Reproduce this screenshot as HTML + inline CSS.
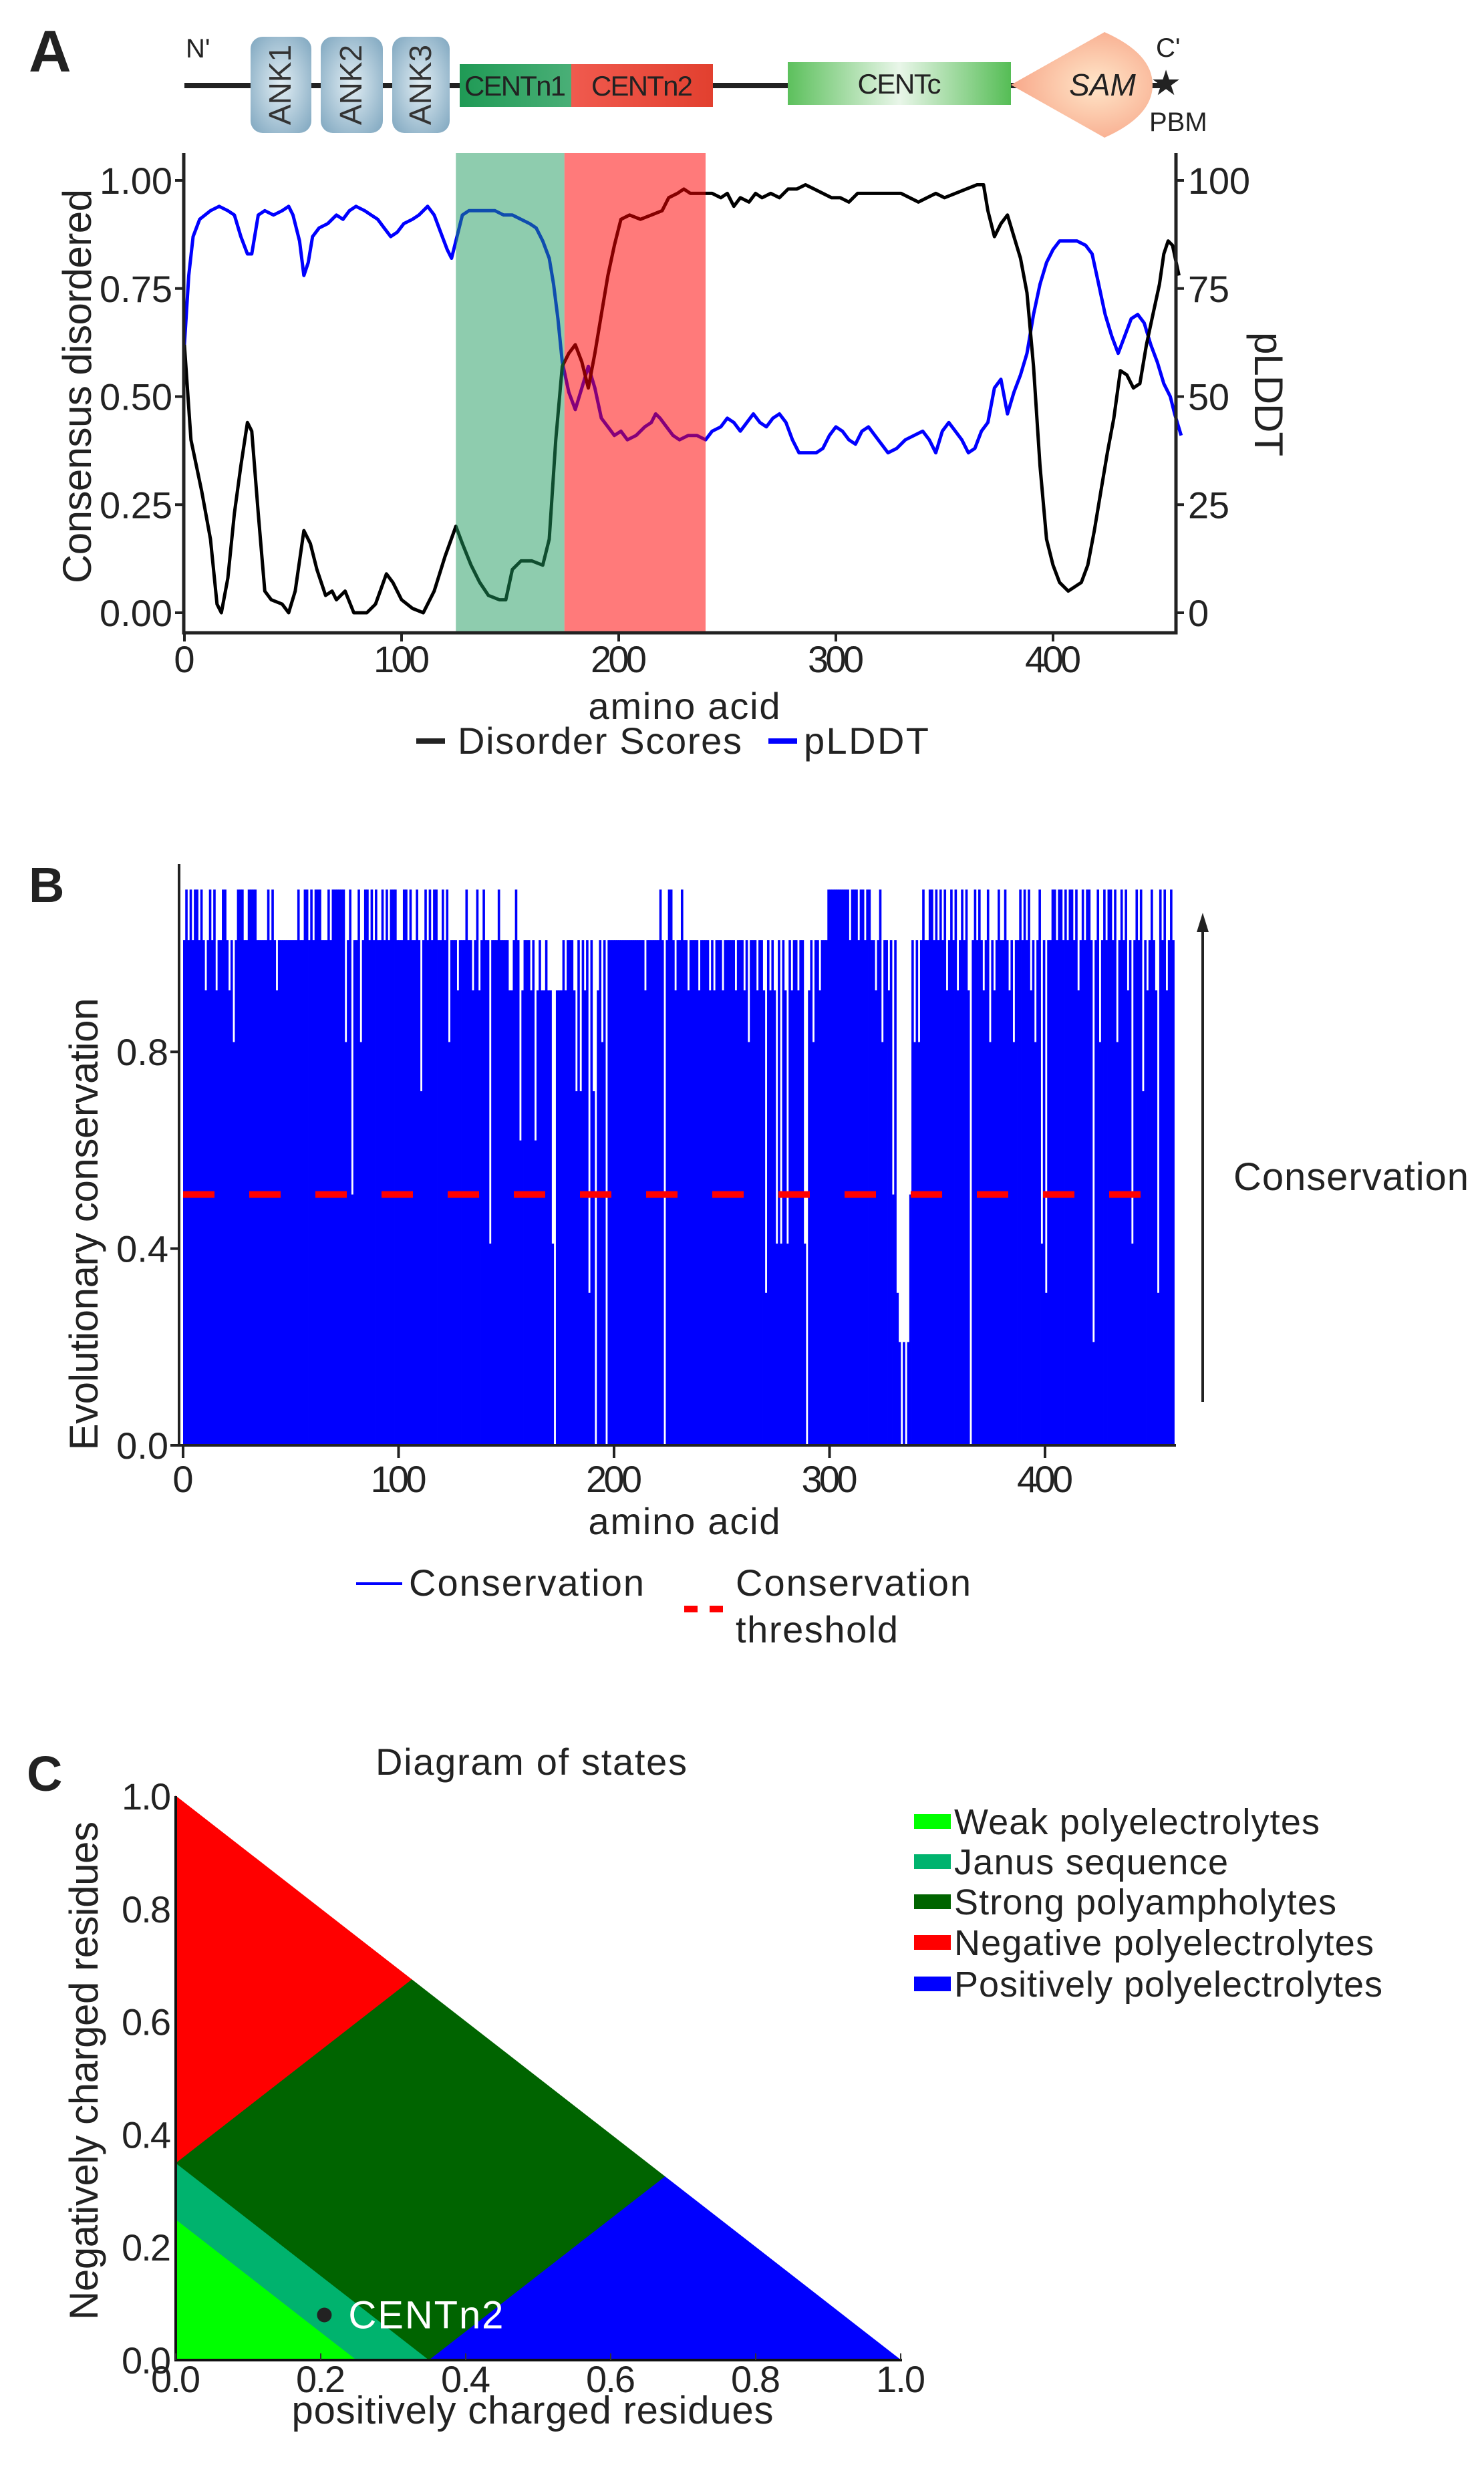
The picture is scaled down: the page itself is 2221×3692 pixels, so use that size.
<!DOCTYPE html>
<html><head><meta charset="utf-8">
<style>
html,body{margin:0;padding:0;background:#fff;}
svg{display:block;font-family:"Liberation Sans",Arial,sans-serif;}
</style></head>
<body>
<svg id="fig" width="2221" height="3692" viewBox="0 0 2221 3692" xmlns="http://www.w3.org/2000/svg">
<defs>
  <radialGradient id="gAnk" cx="0.5" cy="0.5" r="0.7"><stop offset="0" stop-color="#e2eef4"/><stop offset="1" stop-color="#7ea6bf"/></radialGradient>
  <linearGradient id="gCn1" x1="0" x2="1"><stop offset="0" stop-color="#1f9a55"/><stop offset="1" stop-color="#4aaf77"/></linearGradient>
  <linearGradient id="gCn2" x1="0" x2="1"><stop offset="0" stop-color="#f05a4e"/><stop offset="1" stop-color="#e2402f"/></linearGradient>
  <linearGradient id="gCc" x1="0" x2="1"><stop offset="0" stop-color="#5cc05c"/><stop offset="0.5" stop-color="#e9f6e9"/><stop offset="1" stop-color="#55bd55"/></linearGradient>
  <radialGradient id="gSam" cx="0.6" cy="0.5" r="0.6"><stop offset="0" stop-color="#ffe6c9"/><stop offset="1" stop-color="#f8a88a"/></radialGradient>
</defs>

<!-- ============ PANEL A ============ -->
<g id="panelA">
  <text x="43" y="107" font-size="88" font-weight="bold" fill="#222">A</text>
  <g>
    <line x1="276" y1="128" x2="1745" y2="128" stroke="#222" stroke-width="8"/>
    <text x="278" y="86" font-size="40" fill="#222">N'</text>
    <g><rect x="375" y="55" width="91" height="144" rx="18" fill="url(#gAnk)"/><text transform="translate(435,127) rotate(-90)" text-anchor="middle" font-size="46" fill="#333">ANK1</text></g>
    <g><rect x="480" y="55" width="93" height="144" rx="18" fill="url(#gAnk)"/><text transform="translate(541,127) rotate(-90)" text-anchor="middle" font-size="46" fill="#333">ANK2</text></g>
    <g><rect x="587" y="55" width="86" height="144" rx="18" fill="url(#gAnk)"/><text transform="translate(645,127) rotate(-90)" text-anchor="middle" font-size="46" fill="#333">ANK3</text></g>
    <g><rect x="688" y="96" width="167" height="64" fill="url(#gCn1)"/><text x="771" y="143" text-anchor="middle" font-size="42" fill="#222" textLength="152">CENTn1</text></g>
    <g><rect x="855" y="96" width="212" height="64" fill="url(#gCn2)"/><text x="961" y="143" text-anchor="middle" font-size="42" fill="#222" textLength="152">CENTn2</text></g>
    <g><rect x="1179" y="93" width="334" height="64" fill="url(#gCc)"/><text x="1346" y="140" text-anchor="middle" font-size="42" fill="#222" textLength="125">CENTc</text></g>
    <g><path d="M1513,127 L1653,48 Q1725,80 1725,127 Q1725,174 1653,206 Z" fill="url(#gSam)"/><text x="1650" y="143" text-anchor="middle" font-size="46" font-style="italic" fill="#222">SAM</text></g>
    <text x="1745" y="142" text-anchor="middle" font-size="52" fill="#222">★</text>
    <text x="1730" y="85" font-size="40" fill="#222">C'</text>
    <text x="1720" y="196" font-size="40" fill="#222">PBM</text>
  </g>
  <g id="chartA"></g>
</g>

<!-- ============ PANEL B ============ -->
<g id="panelB">
  <text x="43" y="1350" font-size="74" font-weight="bold" fill="#222">B</text>
  <g id="chartB"></g>
  <g>
    <line x1="1800" y1="2098" x2="1800" y2="1390" stroke="#222" stroke-width="4"/>
    <path d="M1791,1395 L1800,1366 L1809,1395 Z" fill="#222"/>
  </g>
  <text x="1846" y="1781" font-size="58" fill="#222" textLength="352">Conservation</text>
  <g>
    <g>
      <line x1="533" y1="2370" x2="602" y2="2370" stroke="#0000ff" stroke-width="4"/>
      <text x="612" y="2388" font-size="56" fill="#222" textLength="352">Conservation</text>
    </g>
    <g>
      <line x1="1024" y1="2408" x2="1096" y2="2408" stroke="#ff0000" stroke-width="10" stroke-dasharray="20,18"/>
      <text x="1101" y="2388" font-size="56" fill="#222" textLength="352">Conservation</text>
      <text x="1101" y="2458" font-size="56" fill="#222" textLength="243">threshold</text>
    </g>
  </g>
</g>

<!-- ============ PANEL C ============ -->
<g id="panelC">
  <text x="40" y="2680" font-size="74" font-weight="bold" fill="#222">C</text>
  <text x="795" y="2656" text-anchor="middle" font-size="56" fill="#222" textLength="466">Diagram of states</text>
  <g id="chartC"></g>
</g>

<script>
// ---------------- Panel A data ----------------
const disorderAA = [0,3,8,12,15,17,20,23,26,29,31,34,37,40,45,48,51,55,58,61,65,68,70,74,78,84,88,93,96,100,105,110,115,120,125,128,132,136,140,145,148,151,155,160,165,168,171,174,177,180,183,186,189,192,195,198,201,205,210,215,220,223,227,230,233,236,240,243,247,250,253,256,260,263,266,270,274,278,282,286,290,294,298,302,306,310,314,318,322,326,330,334,338,342,346,350,355,360,365,368,370,373,376,379,382,385,388,391,394,397,400,403,407,410,413,416,419,422,425,428,431,434,437,440,443,446,449,451,453,455,458];
const disorderVal = [0.62,0.40,0.28,0.17,0.02,0.00,0.08,0.23,0.34,0.44,0.42,0.23,0.05,0.03,0.02,0.00,0.05,0.19,0.16,0.10,0.04,0.05,0.03,0.05,0.00,0.00,0.02,0.09,0.07,0.03,0.01,0.00,0.05,0.13,0.20,0.16,0.11,0.07,0.04,0.03,0.03,0.10,0.12,0.12,0.11,0.17,0.40,0.57,0.60,0.62,0.58,0.52,0.60,0.69,0.78,0.85,0.91,0.92,0.91,0.92,0.93,0.96,0.97,0.98,0.97,0.97,0.97,0.97,0.96,0.97,0.94,0.96,0.95,0.97,0.96,0.97,0.96,0.98,0.98,0.99,0.98,0.97,0.96,0.96,0.95,0.97,0.97,0.97,0.97,0.97,0.97,0.96,0.95,0.96,0.97,0.96,0.97,0.98,0.99,0.99,0.93,0.87,0.90,0.92,0.87,0.82,0.74,0.57,0.34,0.17,0.11,0.07,0.05,0.06,0.07,0.11,0.19,0.28,0.37,0.45,0.56,0.55,0.52,0.53,0.62,0.69,0.76,0.83,0.86,0.85,0.78];
const plddtAA = [0,2,4,7,12,16,20,23,26,29,31,34,37,41,45,48,50,53,55,57,59,62,66,70,73,76,79,83,86,89,92,95,98,101,105,108,112,115,118,121,123,125,128,131,135,139,143,147,151,155,159,162,165,168,170,172,174,177,180,183,186,189,192,195,198,201,204,208,212,215,217,219,222,225,228,232,236,240,243,247,250,253,256,259,262,265,268,271,274,277,280,283,287,291,294,297,300,303,306,309,312,315,318,321,324,328,332,336,340,343,346,349,352,355,358,361,364,367,370,373,376,379,382,385,388,391,394,397,400,403,407,411,415,418,421,424,427,430,433,436,439,442,445,448,451,454,456,459];
const plddtVal = [62,78,87,91,93,94,93,92,87,83,83,92,93,92,93,94,92,86,78,81,87,89,90,92,91,93,94,93,92,91,89,87,88,90,91,92,94,92,88,84,82,86,92,93,93,93,93,92,92,91,90,89,86,82,76,68,58,51,47,52,57,52,45,43,41,42,40,41,43,44,46,45,43,41,40,41,41,40,42,43,45,44,42,44,46,44,43,45,46,44,40,37,37,37,38,41,43,42,40,39,42,43,41,39,37,38,40,41,42,40,37,42,44,42,40,37,38,42,44,52,54,46,51,55,60,69,76,81,84,86,86,86,85,83,76,69,64,60,64,68,69,67,62,58,53,50,46,41];
const xTicksA = [0,100,200,300,400];
const yTicksLeftA = [0,0.25,0.5,0.75,1.0];
const yTickLabelsLeftA = ["0.00","0.25","0.50","0.75","1.00"];
const yTicksRightA = [0,25,50,75,100];
const shadeStart = [125,175];
const shadeEnd = [175,240];
const shadeColor = ["#1e9a5e","#ff0000"];
const shadeOpacity = [0.5,0.52];

// ---------------- Panel B data ----------------
const consSegments = ["abababbaba","9abab9aabb","a9a8abbbaa","bbbbaaaaab","aba9aaaaaa","aaabaabbab","abbbaaabab","bbbbb8ab5a","ab8abbabab","aabababbba","aabbabaaba","7abababbaa","bab8aaa9aa","abaa9ab9ab","aa4aaabaaa","a99aba69aa","a9a69a99a9","940999a9aa","a97a7a9a3a","709a8a0aaa","aaaaaaaaaa","aaaa9aaaaa","aba0abba9a","abaa9aaaa9","aaaa9a9aaa","9aaaaa9aaa","9a8aaa9aa9","3a9a94a4a9","4a9aa9aa40","9a8aa9aaab","bbbbbbbbba","bbbabbabba","a9ab8aa9a5","a3202025a8","a8abaabbab","abab9abab9","abab90abab","a9ab8a9aba","aba9a8aaba","bab9a8ab4a","3aabbabbab","abbab9abab","ba2ab8abab","bab8abab9a","4abab7a9ab","a93bab9aba"];
const consLevelValues = [0,0.10,0.21,0.31,0.41,0.51,0.62,0.72,0.82,0.925,1.027,1.13];
const consThreshold = [0.51];
const xTicksB = [0,100,200,300,400];
const yTicksB = [0,0.4,0.8];
const yTickLabelsB = ["0.0","0.4","0.8"];

// ---------------- Panel C data ----------------
const regionNames = ["weak-polyelectrolytes","janus-sequence","strong-polyampholytes","negative-polyelectrolytes","positive-polyelectrolytes"];
const regionLabels = ["Weak polyelectrolytes","Janus sequence","Strong polyampholytes","Negative polyelectrolytes","Positively polyelectrolytes"];
const regionColors = ["#00ff00","#00b36e","#006400","#ff0000","#0000ff"];
const regionFplus = [[0,0.25,0],[0.25,0.35,0,0],[0.35,0.675,0.325,0],[0,0,0.325],[0.35,1,0.675]];
const regionFminus = [[0,0,0.25],[0,0,0.35,0.25],[0,0.325,0.675,0.35],[0.35,1,0.675],[0,0,0.325]];
const pointX = [0.205];
const pointY = [0.08];
const pointLabel = ["CENTn2"];
const ticksC = [0,0.2,0.4,0.6,0.8,1.0];
const tickLabelsC = ["0.0","0.2","0.4","0.6","0.8","1.0"];

const NS = "http://www.w3.org/2000/svg";
function mk(tag, attrs, parent){ const e=document.createElementNS(NS,tag); for(const k in attrs) e.setAttribute(k,attrs[k]); parent.appendChild(e); return e; }
function txt(parent, x, y, s, size, anchor, extra){ const t=mk('text',Object.assign({x:x,y:y,'font-size':size,'text-anchor':anchor||'start',fill:'#222'},extra||{}),parent); t.textContent=s; return t; }

// ---------- Chart A ----------
(function(){
  const g=document.getElementById('chartA');
  const xA=a=>276+a*3.25;
  const yA=v=>917-v*647;
  let d='';
  plddtAA.forEach((a,i)=>{ d+=(i?'L':'M')+xA(a).toFixed(1)+','+yA(plddtVal[i]/100).toFixed(1); });
  const pl=mk('path',{d:d,fill:'none',stroke:'#0000ff','stroke-width':5,'stroke-linejoin':'round'},g);
  
  
  d='';
  disorderAA.forEach((a,i)=>{ d+=(i?'L':'M')+xA(a).toFixed(1)+','+yA(disorderVal[i]).toFixed(1); });
  const dl=mk('path',{d:d,fill:'none',stroke:'#000','stroke-width':5,'stroke-linejoin':'round'},g);
  
  
  shadeStart.forEach((s,i)=>{
    const r=mk('rect',{x:xA(s),y:229,width:xA(shadeEnd[i])-xA(s),height:718,fill:shadeColor[i],'fill-opacity':shadeOpacity[i]},g);
    
    
  });
  const ax=mk('path',{d:'M275,229 L275,947 L1760,947 L1760,229',fill:'none',stroke:'#222','stroke-width':5},g);
  
  
  yTicksLeftA.forEach((v,i)=>{
    mk('line',{x1:262,x2:275,y1:yA(v),y2:yA(v),stroke:'#222','stroke-width':4},g);
    const t=txt(g,258,yA(v)+20,yTickLabelsLeftA[i],56,'end');
    
    
  });
  yTicksRightA.forEach(v=>{
    mk('line',{x1:1760,x2:1772,y1:yA(v/100),y2:yA(v/100),stroke:'#222','stroke-width':4},g);
    const t=txt(g,1778,yA(v/100)+20,String(v),56,'start',{textLength:String(v).length*31});
    
    
  });
  xTicksA.forEach(v=>{
    mk('line',{x1:xA(v),x2:xA(v),y1:947,y2:960,stroke:'#222','stroke-width':4},g);
    const t=txt(g,xA(v),1006,String(v),56,'middle',{textLength:String(v).length*28});
    
    
  });
  let t=txt(g,1024,1076,'amino acid',56,'middle',{textLength:287});
  
  
  t=txt(g,0,0,'Consensus disordered',60,'middle',{transform:'translate(136,578) rotate(-90)',textLength:590});
  
  
  t=txt(g,0,0,'pLDDT',60,'middle',{transform:'translate(1878,590) rotate(90)',textLength:186});
  
  
  const lg=mk('g',{},g);
  
  
  mk('line',{x1:623,x2:666,y1:1109,y2:1109,stroke:'#222','stroke-width':8},lg);
  t=txt(lg,685,1128,'Disorder Scores',56,'start',{textLength:425});
  
  
  mk('line',{x1:1150,x2:1193,y1:1109,y2:1109,stroke:'#0000ff','stroke-width':8},lg);
  t=txt(lg,1203,1128,'pLDDT',56,'start',{textLength:187});
  
  
})();

// ---------- Chart B ----------
(function(){
  const g=document.getElementById('chartB');
  const xB=a=>274+a*3.225;
  const yB=v=>2163-v*736;
  const consValues=[];
  consSegments.join('').split('').forEach(c=>consValues.push(consLevelValues[parseInt(c,16)]));
  const bars=mk('g',{},g);
  
  
  consValues.forEach((v,i)=>{
    if(v<=0) return;
    const r=mk('rect',{x:xB(i).toFixed(2),y:yB(v).toFixed(1),width:(xB(i+1)-xB(i)+0.4).toFixed(2),height:(yB(0)-yB(v)).toFixed(1),fill:'#0000ff'},bars);
    
    
  });
  const th=mk('line',{x1:xB(0),x2:xB(consValues.length),y1:yB(consThreshold[0]),y2:yB(consThreshold[0]),stroke:'#ff0000','stroke-width':10,'stroke-dasharray':'47,52'},g);
  
  
  const ax=mk('path',{d:'M268,1293 L268,2163 L1760,2163',fill:'none',stroke:'#222','stroke-width':4},g);
  
  
  yTicksB.forEach((v,i)=>{
    mk('line',{x1:255,x2:268,y1:yB(v),y2:yB(v),stroke:'#222','stroke-width':4},g);
    const t=txt(g,252,yB(v)+20,yTickLabelsB[i],56,'end');
    
    
  });
  xTicksB.forEach(v=>{
    mk('line',{x1:xB(v),x2:xB(v),y1:2163,y2:2182,stroke:'#222','stroke-width':4},g);
    const t=txt(g,xB(v),2233,String(v),56,'middle',{textLength:String(v).length*28});
    
    
  });
  let t=txt(g,1024,2296,'amino acid',56,'middle',{textLength:287});
  
  
  t=txt(g,0,0,'Evolutionary conservation',60,'middle',{transform:'translate(146,1832) rotate(-90)',textLength:677});
  
  
})();

// ---------- Chart C ----------
(function(){
  const g=document.getElementById('chartC');
  const xC=v=>263+v*1085;
  const yC=v=>3532-v*844;
  regionFplus.forEach((xs,i)=>{
    const pts=xs.map((x,j)=>xC(x).toFixed(1)+','+yC(regionFminus[i][j]).toFixed(1)).join(' ');
    const p=mk('polygon',{points:pts,fill:regionColors[i],stroke:regionColors[i],'stroke-width':1},g);
    
    
  });
  const ax=mk('path',{d:'M263,2688 L263,3532 L1350,3532',fill:'none',stroke:'#111','stroke-width':4},g);
  
  
  ticksC.forEach((v,i)=>{
    mk('line',{x1:xC(v),x2:xC(v),y1:3532,y2:3522,stroke:'#333','stroke-width':2},g);
    let t=txt(g,xC(v),3580,tickLabelsC[i],56,'middle',{textLength:74});
    
    
    t=txt(g,256,yC(v)+20,tickLabelsC[i],56,'end',{textLength:74});
    
    
  });
  pointX.forEach((px,i)=>{
    const c=mk('circle',{cx:xC(px),cy:yC(pointY[i]),r:11,fill:'#222'},g);
    
    
    const t=txt(g,xC(px)+36,yC(pointY[i])+20,pointLabel[i],58,'start',{fill:'#fff',textLength:232});
    
    
  });
  let t=txt(g,797,3627,'positively charged residues',58,'middle',{textLength:721});
  
  
  t=txt(g,0,0,'Negatively charged residues',60,'middle',{transform:'translate(146,3099) rotate(-90)',textLength:746});
  
  
  const lg=mk('g',{},g);
  
  
  const rowY=[2726,2786,2846,2907,2969];
  const widths=[547,410,572,628,641];
  regionLabels.forEach((lab,i)=>{
    const e=mk('g',{},lg);
    
    
    mk('rect',{x:1368,y:rowY[i]-11,width:55,height:22,fill:regionColors[i]},e);
    txt(e,1428,rowY[i]+19,lab,54,'start',{textLength:widths[i]});
  });
})();
</script>
</svg>
</body></html>
